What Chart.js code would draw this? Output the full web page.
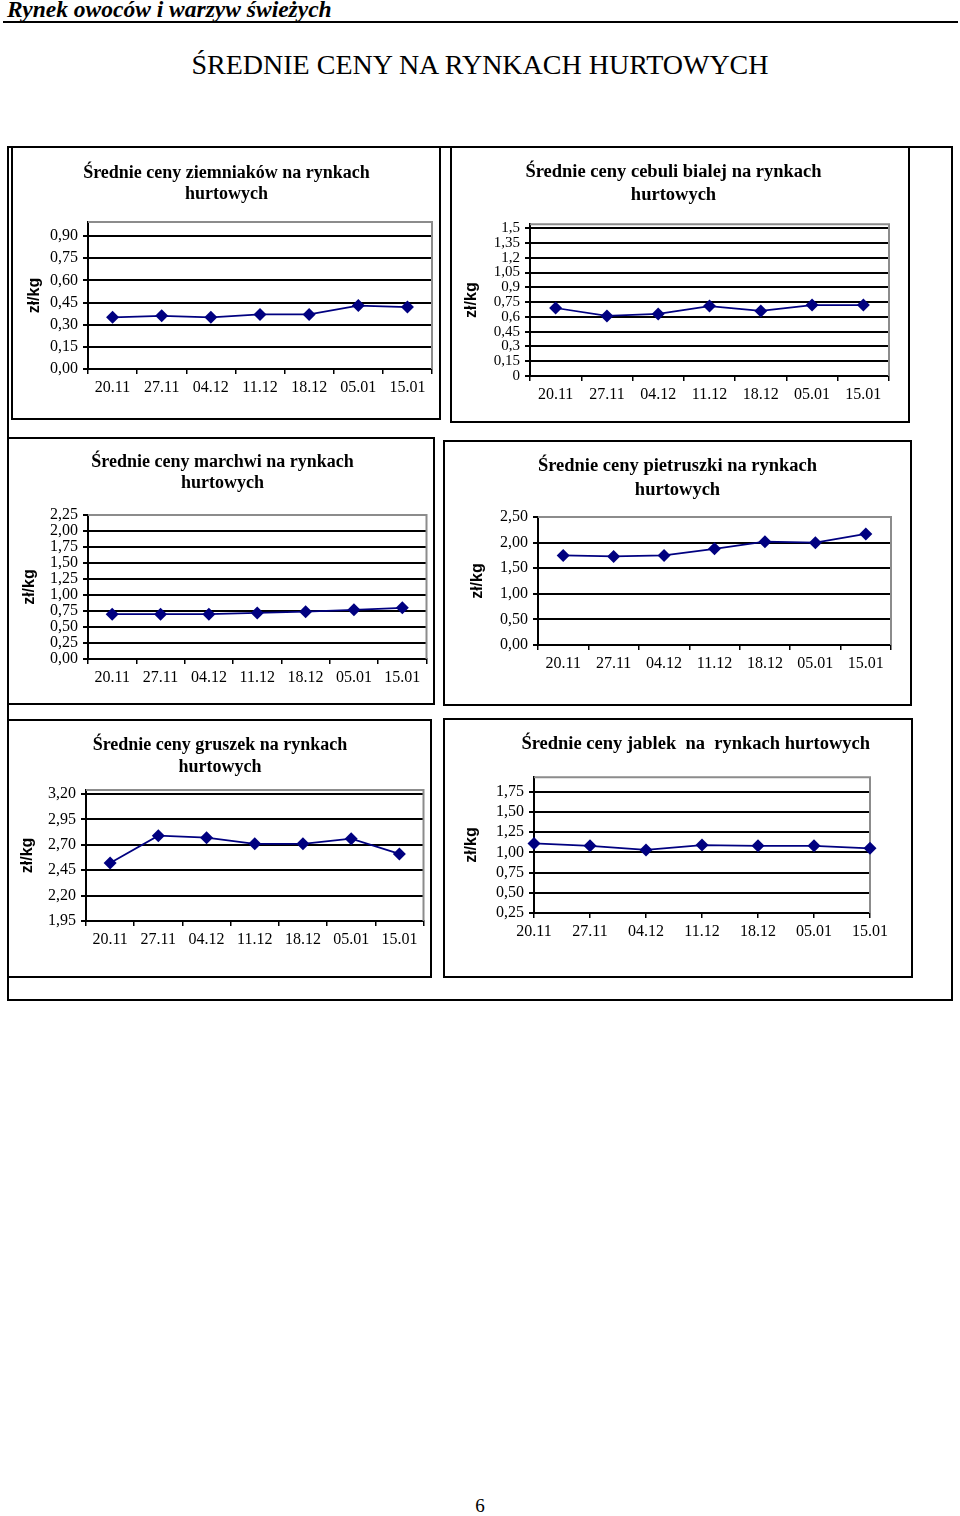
<!DOCTYPE html>
<html lang="pl">
<head>
<meta charset="utf-8">
<title>Średnie ceny na rynkach hurtowych</title>
<script src="https://cdn.jsdelivr.net/npm/chart.js@4.4.1/dist/chart.umd.min.js"></script>
<style>
  body { margin: 0; background: #fff; }
  .page { position: relative; width: 960px; height: 1516px; font-family: "Liberation Serif", "Times New Roman", serif; color: #000; }
  .hdr { position: absolute; left: 7px; top: -4px; font-size: 23.5px; font-style: italic; font-weight: bold; }
  .rule { position: absolute; left: 3px; top: 21px; width: 955px; height: 2px; background: #000; }
  .head { position: absolute; left: 0; top: 49px; width: 960px; text-align: center; font-size: 28px; }
  .frame { position: absolute; left: 7px; top: 146px; width: 946px; height: 855px; border: 2px solid #000; box-sizing: border-box; }
  .box { position: absolute; border: 2px solid #000; box-sizing: border-box; background: #fff; }
  .box canvas { display: block; }
  .pgnum { position: absolute; left: 0; top: 1495px; width: 960px; text-align: center; font-size: 19px; }
</style>
</head>
<body>
<div class="page">
  <div class="hdr">Rynek owoców i warzyw świeżych</div>
  <div class="rule"></div>
  <div class="head">ŚREDNIE CENY NA RYNKACH HURTOWYCH</div>
  <div class="frame"></div>

  <div class="box" style="left:11px;top:146px;width:430px;height:274px"><canvas id="c1" width="426" height="270"></canvas></div>
  <div class="box" style="left:450px;top:146px;width:460px;height:277px"><canvas id="c2" width="456" height="273"></canvas></div>
  <div class="box" style="left:7px;top:437px;width:428px;height:268px"><canvas id="c3" width="424" height="264"></canvas></div>
  <div class="box" style="left:443px;top:440px;width:469px;height:266px"><canvas id="c4" width="465" height="262"></canvas></div>
  <div class="box" style="left:7px;top:719px;width:425px;height:259px"><canvas id="c5" width="421" height="255"></canvas></div>
  <div class="box" style="left:443px;top:718px;width:470px;height:260px"><canvas id="c6" width="466" height="256"></canvas></div>

  <div class="pgnum">6</div>
</div>

<script>
// Notowania tygodniowe
const dates = ['20.11', '27.11', '04.12', '11.12', '18.12', '05.01', '15.01'];

// Ceny w zł/kg
const potato  = [0.35, 0.36, 0.35, 0.37, 0.37, 0.43, 0.42];
const onion   = [0.69, 0.61, 0.63, 0.71, 0.66, 0.72, 0.72];
const carrot  = [0.70, 0.70, 0.70, 0.72, 0.74, 0.77, 0.80];
const parsley = [1.75, 1.73, 1.75, 1.88, 2.02, 2.00, 2.17];
const pear    = [2.52, 2.79, 2.77, 2.71, 2.71, 2.76, 2.61];
const apple   = [1.11, 1.08, 1.03, 1.09, 1.08, 1.08, 1.05];

// Opisy osi Y (od dołu)
const potatoTicks  = ['0,00', '0,15', '0,30', '0,45', '0,60', '0,75', '0,90'];
const onionTicks   = ['0', '0,15', '0,3', '0,45', '0,6', '0,75', '0,9', '1,05', '1,2', '1,35', '1,5'];
const carrotTicks  = ['0,00', '0,25', '0,50', '0,75', '1,00', '1,25', '1,50', '1,75', '2,00', '2,25'];
const parsleyTicks = ['0,00', '0,50', '1,00', '1,50', '2,00', '2,50'];
const pearTicks    = ['1,95', '2,20', '2,45', '2,70', '2,95', '3,20'];
const appleTicks   = ['0,25', '0,50', '0,75', '1,00', '1,25', '1,50', '1,75'];

const NAVY = '#000080';
const SERIF = '"Liberation Serif", "Times New Roman", serif';

// Szara ramka obszaru wykresu (góra i prawa strona)
const plotFrame = {
  id: 'plotFrame',
  beforeDatasetsDraw(chart) {
    const a = chart.chartArea;
    const ctx = chart.ctx;
    ctx.save();
    ctx.strokeStyle = '#8c8c8c';
    ctx.lineWidth = 2;
    ctx.beginPath();
    ctx.moveTo(a.left, a.top);
    ctx.lineTo(a.right, a.top);
    ctx.lineTo(a.right, a.bottom);
    ctx.stroke();
    ctx.restore();
  }
};

function toNum(label) {
  return parseFloat(label.replace(',', '.'));
}

function makeChart(id, o) {
  const tickVals = o.ticks.map(toNum);
  return new Chart(document.getElementById(id), {
    type: 'line',
    data: {
      labels: dates,
      datasets: [{
        data: o.data,
        borderColor: NAVY,
        borderWidth: 1.75,
        backgroundColor: NAVY,
        pointStyle: 'rectRot',
        pointRadius: 6.5,
        pointBorderWidth: 0,
        tension: 0,
        clip: false
      }]
    },
    options: {
      responsive: false,
      animation: false,
      layout: { padding: o.pad },
      plugins: {
        legend: { display: false },
        tooltip: { enabled: false },
        title: {
          display: true,
          text: o.title,
          align: o.align || 'center',
          color: '#000',
          font: { family: SERIF, size: o.titleSize, weight: 'bold', lineHeight: o.titleLh },
          padding: { top: o.titleTop, bottom: o.titleBottom }
        }
      },
      scales: {
        x: {
          offset: o.offset,
          afterFit: s => { s.height = 30; },
          grid: { offset: o.offset, drawOnChartArea: false, tickLength: 5, color: '#000', lineWidth: 1.5 },
          border: { color: '#000', width: 2 },
          ticks: { color: '#000', font: { family: SERIF, size: 16 }, padding: 4, autoSkip: false, maxRotation: 0 }
        },
        y: {
          min: o.min,
          max: o.max,
          afterBuildTicks: s => { s.ticks = tickVals.map(v => ({ value: v })); },
          afterFit: s => { s.width = o.yWidth; },
          grid: { color: '#000', lineWidth: 2, tickLength: 5, tickColor: '#000' },
          border: { color: '#000', width: 2 },
          ticks: {
            color: '#000',
            autoSkip: false,
            padding: 5,
            font: { family: SERIF, size: o.tickSize || 16, lineHeight: 1 },
            callback: (v, i) => o.ticks[i]
          },
          title: {
            display: true,
            text: 'zł/kg',
            color: '#000',
            font: { family: '"Liberation Sans", Arial, sans-serif', size: 16, weight: 'bold' },
            padding: { top: 4, bottom: 0 }
          }
        }
      }
    },
    plugins: [plotFrame]
  });
}

makeChart('c1', {
  data: potato, ticks: potatoTicks, min: 0, max: 0.995, offset: true,
  title: ['Średnie ceny ziemniaków na rynkach', 'hurtowych'], titleSize: 18, titleLh: 1.17,
  titleTop: 15, titleBottom: 17, yWidth: 67,
  pad: { left: 8, right: 7, top: 0, bottom: 19 }
});

makeChart('c2', {
  data: onion, ticks: onionTicks, min: 0, max: 1.54, offset: true, tickSize: 15,
  title: ['Średnie ceny cebuli bialej na rynkach', 'hurtowych'], titleSize: 18.5, titleLh: 1.25,
  titleTop: 13, titleBottom: 17, yWidth: 72,
  pad: { left: 6, right: 19, top: 0, bottom: 15 }
});

makeChart('c3', {
  data: carrot, ticks: carrotTicks, min: 0, max: 2.25, offset: true,
  title: ['Średnie ceny marchwi na rynkach', 'hurtowych'], titleSize: 18, titleLh: 1.17,
  titleTop: 13, titleBottom: 21, yWidth: 72,
  pad: { left: 7, right: 4, top: 0, bottom: 14 }
});

makeChart('c4', {
  data: parsley, ticks: parsleyTicks, min: 0, max: 2.5, offset: true,
  title: ['Średnie ceny pietruszki na rynkach', 'hurtowych'], titleSize: 18.5, titleLh: 1.3,
  titleTop: 12, titleBottom: 15, yWidth: 74,
  pad: { left: 19, right: 19, top: 0, bottom: 29 }
});

makeChart('c5', {
  data: pear, ticks: pearTicks, min: 1.95, max: 3.24, offset: true,
  title: ['Średnie ceny gruszek na rynkach', 'hurtowych'], titleSize: 18, titleLh: 1.22,
  titleTop: 13, titleBottom: 12, yWidth: 72,
  pad: { left: 5, right: 4, top: 0, bottom: 25 }
});

makeChart('c6', {
  data: apple, ticks: appleTicks, min: 0.25, max: 1.93, offset: false,
  title: 'Średnie ceny jablek  na  rynkach hurtowych', titleSize: 18.5, titleLh: 1.25, align: 'end',
  titleTop: 13, titleBottom: 21, yWidth: 76,
  pad: { left: 13, right: 41, top: 0, bottom: 33 }
});
</script>
</body>
</html>
